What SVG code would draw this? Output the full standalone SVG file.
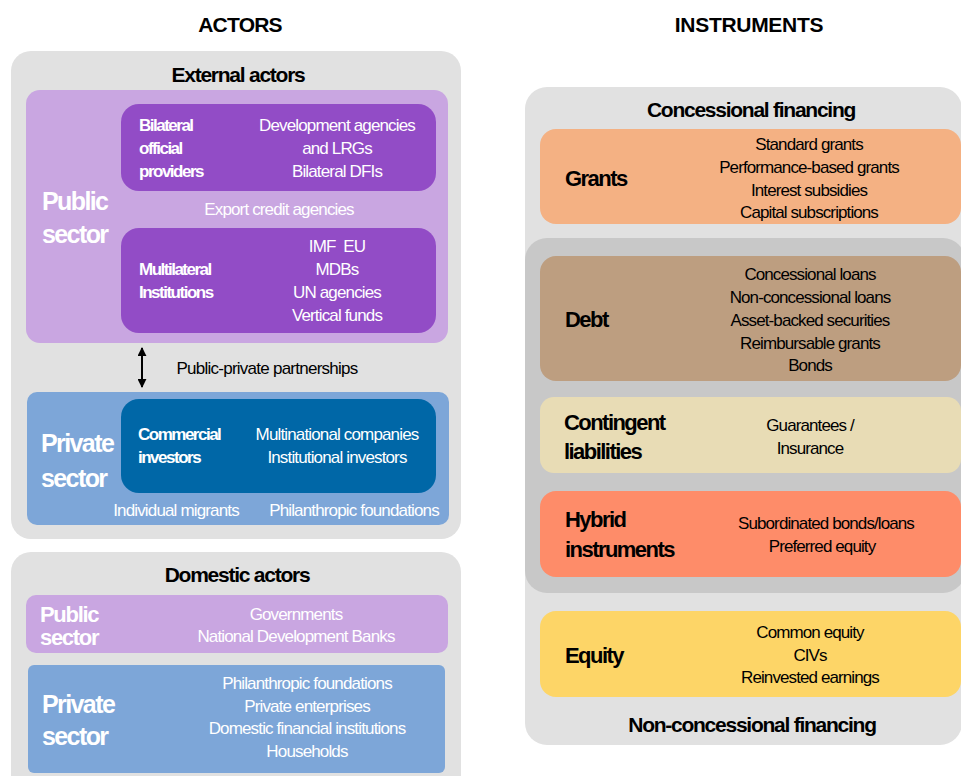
<svg xmlns="http://www.w3.org/2000/svg" width="961" height="776" viewBox="0 0 961 776">
<defs>
<marker id="ah" viewBox="0 0 10 10" refX="9" refY="5" markerWidth="9" markerHeight="9" markerUnits="userSpaceOnUse" orient="auto-start-reverse"><path d="M0,0 L10,5 L0,10 z" fill="#000"/></marker>
</defs>
<style>
text{font-family:"Liberation Sans",Arial,sans-serif}
.h{font-size:21px;font-weight:bold;fill:#000;text-anchor:middle}
.t{font-size:21px;font-weight:bold;letter-spacing:-1.25px;fill:#000;text-anchor:middle}
.big{font-size:25px;font-weight:bold;letter-spacing:-1.6px;fill:#fff}
.big2{font-size:22px;font-weight:bold;letter-spacing:-1.3px;fill:#fff}
.lb{font-size:17px;font-weight:bold;letter-spacing:-1.5px;fill:#fff}
.it{font-size:17px;letter-spacing:-0.85px;fill:#fff;text-anchor:middle}
.itk{font-size:17px;letter-spacing:-0.9px;fill:#000;text-anchor:middle}
.rl{font-size:22px;font-weight:bold;letter-spacing:-1.55px;fill:#000}
.grey{fill:#e1e1e1}
.pur{fill:#c9a6e1}
.dpur{fill:#924cc6}
.blu{fill:#7da6d8}
.dblu{fill:#0067a7}
</style>
<rect width="961" height="776" fill="#fff"/>
<g id="headings">
<text class="h" x="240" y="32" style="letter-spacing:-0.8px">ACTORS</text>
<text class="h" x="749" y="32" style="letter-spacing:-0.3px">INSTRUMENTS</text>
</g>
<g id="external-actors">
<rect class="grey" x="11" y="51" width="450" height="488" rx="20"/>
<text class="t" x="238" y="82">External actors</text>
</g>
<g id="external-public-sector">
<rect class="pur" x="26" y="90" width="422" height="253" rx="14"/>
<text class="big" x="42" y="210">Public</text>
<text class="big" x="42" y="243">sector</text>
<text class="it" x="279" y="215" fill="#f3ecf8">Export credit agencies</text>
</g>
<g id="bilateral">
<rect class="dpur" x="121" y="104" width="315" height="87" rx="18"/>
<text class="lb" x="139" y="131">Bilateral</text>
<text class="lb" x="139" y="154">official</text>
<text class="lb" x="139" y="177">providers</text>
<text class="it" x="337" y="131">Development agencies</text>
<text class="it" x="337" y="154">and LRGs</text>
<text class="it" x="337" y="177">Bilateral DFIs</text>
</g>
<g id="multilateral">
<rect class="dpur" x="121" y="228" width="315" height="105" rx="18"/>
<text class="lb" x="139" y="275">Multilateral</text>
<text class="lb" x="139" y="298">Institutions</text>
<text class="it" x="337" y="252">IMF&#160; EU</text>
<text class="it" x="337" y="275">MDBs</text>
<text class="it" x="337" y="298">UN agencies</text>
<text class="it" x="337" y="321">Vertical funds</text>
</g>
<g id="connectors">
<line x1="142" y1="348" x2="142" y2="387" stroke="#000" stroke-width="2" marker-start="url(#ah)" marker-end="url(#ah)"/>
<text class="itk" x="267" y="374" style="letter-spacing:-0.75px">Public-private partnerships</text>
</g>
<g id="external-private-sector">
<rect class="blu" x="27" y="392" width="422" height="133" rx="10"/>
<text class="big" x="41" y="452">Private</text>
<text class="big" x="41" y="487">sector</text>
<text class="it" x="176" y="516">Individual migrants</text>
<text class="it" x="354" y="516">Philanthropic foundations</text>
</g>
<g id="commercial">
<rect class="dblu" x="121" y="399" width="315" height="94" rx="18"/>
<text class="lb" x="138" y="440">Commercial</text>
<text class="lb" x="138" y="463">investors</text>
<text class="it" x="337" y="440">Multinational companies</text>
<text class="it" x="337" y="463">Institutional investors</text>
</g>
<g id="domestic-actors">
<rect class="grey" x="11" y="552" width="450" height="250" rx="20"/>
<text class="t" x="237" y="582">Domestic actors</text>
</g>
<g id="domestic-public">
<rect class="pur" x="26" y="595" width="422" height="58" rx="10"/>
<text class="big2" x="40" y="622">Public</text>
<text class="big2" x="40" y="645">sector</text>
<text class="it" x="296" y="620">Governments</text>
<text class="it" x="296" y="642">National Development Banks</text>
</g>
<g id="domestic-private">
<rect class="blu" x="28" y="665" width="417" height="108" rx="6"/>
<text class="big" x="42" y="713">Private</text>
<text class="big" x="42" y="745">sector</text>
<text class="it" x="307" y="689">Philanthropic foundations</text>
<text class="it" x="307" y="712">Private enterprises</text>
<text class="it" x="307" y="734">Domestic financial institutions</text>
<text class="it" x="307" y="757">Households</text>
</g>
<g id="instruments">
<rect class="grey" x="525" y="87" width="437" height="658" rx="22"/>
<text class="t" x="751" y="117">Concessional financing</text>
<text class="t" x="752" y="732">Non-concessional financing</text>
</g>
<g id="grants">
<rect x="540" y="129" width="421" height="95" rx="16" fill="#f4b183"/>
<text class="rl" x="565" y="186">Grants</text>
<text class="itk" x="809" y="150">Standard grants</text>
<text class="itk" x="809" y="173">Performance-based grants</text>
<text class="itk" x="809" y="196">Interest subsidies</text>
<text class="itk" x="809" y="218">Capital subscriptions</text>
</g>
<g id="middle-group">
<rect x="525" y="238" width="440" height="355" rx="22" fill="#c8c8c8"/>
</g>
<g id="debt">
<rect x="540" y="256" width="421" height="125" rx="16" fill="#bd9e80"/>
<text class="rl" x="565" y="327">Debt</text>
<text class="itk" x="810" y="280">Concessional loans</text>
<text class="itk" x="810" y="303">Non-concessional loans</text>
<text class="itk" x="810" y="326">Asset-backed securities</text>
<text class="itk" x="810" y="349">Reimbursable grants</text>
<text class="itk" x="810" y="371">Bonds</text>
</g>
<g id="contingent">
<rect x="540" y="397" width="421" height="76" rx="14" fill="#e8dcb5"/>
<text class="rl" x="564" y="430">Contingent</text>
<text class="rl" x="564" y="459">liabilities</text>
<text class="itk" x="810" y="431">Guarantees /</text>
<text class="itk" x="810" y="454">Insurance</text>
</g>
<g id="hybrid">
<rect x="540" y="491" width="421" height="86" rx="16" fill="#fe8c69"/>
<text class="rl" x="565" y="527">Hybrid</text>
<text class="rl" x="565" y="557">instruments</text>
<text class="itk" x="826" y="529">Subordinated bonds/loans</text>
<text class="itk" x="822" y="552">Preferred equity</text>
</g>
<g id="equity">
<rect x="540" y="611" width="421" height="86" rx="16" fill="#fdd567"/>
<text class="rl" x="565" y="663">Equity</text>
<text class="itk" x="810" y="638">Common equity</text>
<text class="itk" x="810" y="661">CIVs</text>
<text class="itk" x="810" y="683">Reinvested earnings</text>
</g>
</svg>
